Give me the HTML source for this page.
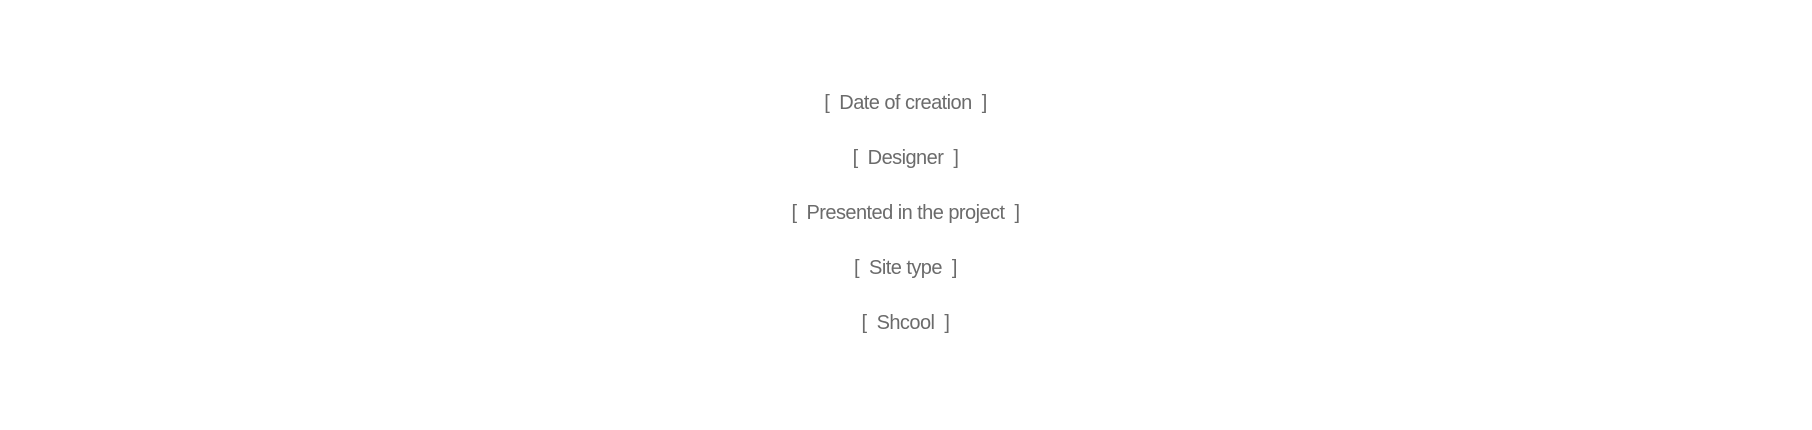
<!DOCTYPE html>
<html>
<head>
<meta charset="utf-8">
<style>
html,body{margin:0;padding:0;background:#fff;width:1812px;height:430px;overflow:hidden}
.t{position:absolute;left:0;width:1811px;text-align:center;font-family:"Liberation Sans",sans-serif;font-size:20px;line-height:24px;color:#6b6b6b;white-space:pre;letter-spacing:-.55px}
</style>
</head>
<body>
<div class="t" style="top:91px">[  Date of creation  ]</div>
<div class="t" style="top:146px">[  Designer  ]</div>
<div class="t" style="top:201px">[  Presented in the project  ]</div>
<div class="t" style="top:256px">[  Site type  ]</div>
<div class="t" style="top:311px">[  Shcool  ]</div>
</body>
</html>
